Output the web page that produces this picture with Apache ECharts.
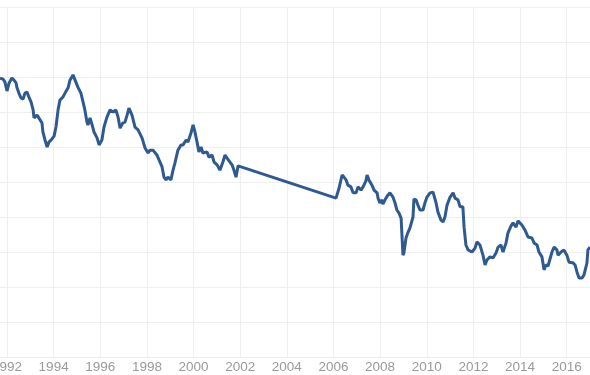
<!DOCTYPE html>
<html>
<head>
<meta charset="utf-8">
<style>
  html, body { margin: 0; padding: 0; background: #ffffff; }
  #chart { width: 590px; height: 375px; }
</style>
<script src="https://cdn.jsdelivr.net/npm/echarts@6/dist/echarts.min.js"></script>
</head>
<body>
<div id="chart"></div>
<script>
// Time (decimal years) and values
const years = [
  1991.70, 1991.83, 1991.91, 1992.00, 1992.09, 1992.21, 1992.30, 1992.39, 1992.43, 1992.51,
  1992.60, 1992.69, 1992.77, 1992.86, 1992.90, 1993.03, 1993.12, 1993.16, 1993.29, 1993.37,
  1993.50, 1993.54, 1993.63, 1993.72, 1993.80, 1993.93, 1994.02, 1994.10, 1994.19, 1994.27,
  1994.40, 1994.49, 1994.57, 1994.62, 1994.70, 1994.83, 1994.92, 1995.04, 1995.17, 1995.26,
  1995.34, 1995.43, 1995.47, 1995.56, 1995.65, 1995.73, 1995.86, 1995.95, 1996.07, 1996.16,
  1996.29, 1996.42, 1996.55, 1996.67, 1996.76,
  1996.85, 1996.97, 1997.06, 1997.15, 1997.23, 1997.36, 1997.49, 1997.62, 1997.79, 1997.92,
  1998.05, 1998.13, 1998.26, 1998.43, 1998.52, 1998.65, 1998.73, 1998.82, 1998.90, 1999.03,
  1999.12, 1999.20, 1999.33, 1999.46, 1999.55, 1999.68, 1999.76, 1999.89, 1999.98, 2000.06,
  2000.15, 2000.23, 2000.32, 2000.40, 2000.58, 2000.66, 2000.79, 2000.88, 2001.01, 2001.13,
  2001.26, 2001.35, 2001.43, 2001.56, 2001.65, 2001.73, 2001.82, 2001.91,
  2006.11, 2006.24, 2006.37, 2006.45, 2006.54, 2006.62, 2006.75, 2006.84, 2006.97, 2007.05,
  2007.18, 2007.27, 2007.39, 2007.44, 2007.52, 2007.65, 2007.74, 2007.87, 2007.91, 2007.99,
  2008.08, 2008.12, 2008.25, 2008.34, 2008.42, 2008.55, 2008.64, 2008.72, 2008.81, 2008.90,
  2008.94, 2008.98, 2009.02, 2009.11, 2009.20, 2009.28, 2009.41, 2009.45, 2009.54, 2009.62,
  2009.71, 2009.84, 2009.92, 2010.01, 2010.14, 2010.27, 2010.40, 2010.48, 2010.61, 2010.70,
  2010.78, 2010.87, 2011.00, 2011.13, 2011.21, 2011.34, 2011.43, 2011.55, 2011.60, 2011.68,
  2011.77, 2011.94, 2012.07, 2012.15, 2012.28, 2012.41, 2012.50, 2012.58, 2012.71, 2012.84,
  2012.97, 2013.06, 2013.18, 2013.27, 2013.40, 2013.48, 2013.61, 2013.70, 2013.83, 2013.91,
  2014.08, 2014.21, 2014.34, 2014.51, 2014.60, 2014.73, 2014.81, 2014.94, 2015.03, 2015.11,
  2015.20, 2015.37, 2015.46, 2015.58, 2015.63, 2015.76, 2015.88, 2016.01, 2016.10, 2016.27,
  2016.36, 2016.44, 2016.53, 2016.66, 2016.74, 2016.87, 2016.91, 2017.00
];
const values = [
  7.97, 7.94, 7.86, 7.60, 7.83, 7.97, 7.91, 7.83, 7.69, 7.54,
  7.40, 7.37, 7.54, 7.57, 7.49, 7.29, 7.06, 6.83, 6.91, 6.86,
  6.69, 6.43, 6.20, 6.00, 6.14, 6.23, 6.31, 6.57, 7.06, 7.34,
  7.43, 7.54, 7.57, 7.69, 7.91, 8.06, 7.91, 7.71, 7.54, 7.29,
  7.06, 6.71, 6.63, 6.83, 6.63, 6.43, 6.26, 6.06, 6.20, 6.57,
  6.86, 7.06, 7.00, 7.06, 6.86,
  6.54, 6.69, 6.71, 6.91, 7.11, 6.91, 6.57, 6.49, 6.26, 5.97,
  5.83, 5.91, 5.91, 5.77, 5.63, 5.43, 5.14, 5.06, 5.14, 5.06,
  5.34, 5.54, 5.91, 6.06, 6.06, 6.20, 6.14, 6.40, 6.63, 6.43,
  6.14, 5.86, 6.00, 5.83, 5.86, 5.71, 5.77, 5.57, 5.49, 5.34,
  5.57, 5.77, 5.69, 5.57, 5.49, 5.34, 5.14, 5.46,
  4.54, 4.83, 5.20, 5.14, 5.06, 4.91, 4.86, 4.69, 4.69, 4.86,
  4.77, 4.86, 5.03, 5.20, 5.06, 4.91, 4.77, 4.69, 4.54, 4.40,
  4.49, 4.37, 4.54, 4.63, 4.69, 4.57, 4.40, 4.20, 4.11, 3.97,
  3.43, 2.91, 2.97, 3.40, 3.57, 3.69, 4.00, 4.51, 4.49, 4.34,
  4.20, 4.20, 4.40, 4.57, 4.69, 4.71, 4.40, 4.14, 3.91, 3.86,
  4.00, 4.34, 4.57, 4.69, 4.54, 4.49, 4.29, 4.29, 3.71, 3.20,
  3.06, 3.00, 3.11, 3.29, 3.20, 2.91, 2.63, 2.77, 2.86, 2.83,
  2.97, 3.14, 3.20, 3.00, 3.26, 3.54, 3.74, 3.83, 3.71, 3.89,
  3.77, 3.63, 3.43, 3.40, 3.26, 3.20, 3.00, 2.86, 2.49, 2.63,
  2.60, 3.00, 3.14, 3.06, 2.91, 3.00, 3.06, 2.91, 2.71, 2.69,
  2.63, 2.43, 2.26, 2.26, 2.34, 2.69, 3.06, 3.14
];
// Axis ticks
const xMin = 1990, xMax = 2018, xStep = 2;
const yMin = 0, yMax = 10, yStep = 1;

const seriesData = years.map((y, i) => [y, values[i]]);

const chart = echarts.init(document.getElementById('chart'), null, { renderer: 'canvas' });
chart.setOption({
  animation: false,
  backgroundColor: '#ffffff',
  grid: {
    left: -39.65, right: -23.32, top: 7, bottom: 18,
    containLabel: false, outerBoundsMode: 'none'
  },
  xAxis: {
    type: 'value',
    min: xMin, max: xMax, interval: xStep,
    axisLine: { show: true, lineStyle: { color: '#ececec', width: 1 } },
    axisTick: { show: false },
    axisLabel: {
      color: '#9a9a9a', fontSize: 13.5, margin: 3,
      fontFamily: 'Liberation Sans, Arial, sans-serif',
      formatter: v => String(v)
    },
    splitLine: { show: true, lineStyle: { color: '#efefef', width: 1 } }
  },
  yAxis: {
    type: 'value',
    min: yMin, max: yMax, interval: yStep,
    axisLine: { show: false },
    axisTick: { show: false },
    axisLabel: { show: false },
    splitLine: { show: true, lineStyle: { color: '#efefef', width: 1 } }
  },
  series: [{
    type: 'line',
    data: seriesData,
    showSymbol: false,
    smooth: false,
    lineStyle: { color: '#2f5a8f', width: 3 },
    itemStyle: { color: '#2f5a8f' }
  }]
});
</script>
</body>
</html>
